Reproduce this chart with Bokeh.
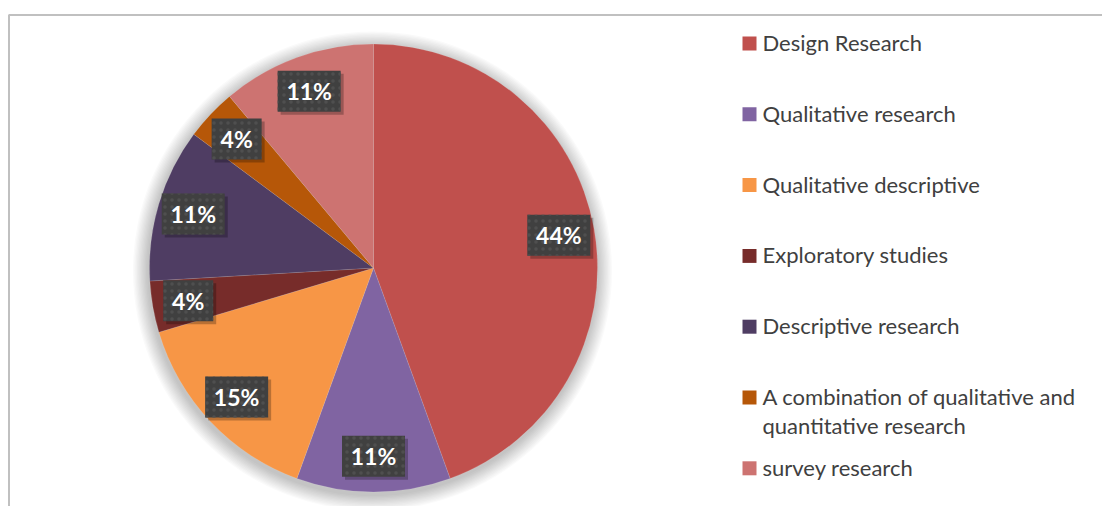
import numpy as np
from bokeh.plotting import figure
from bokeh.models import Range1d, ColumnDataSource
from bokeh.core.properties import value
from bokeh.embed import file_html
from bokeh.resources import INLINE

categories = ["Design Research", "Qualitative research", "Qualitative descriptive",
              "Exploratory studies", "Descriptive research",
              "A combination of qualitative and\nquantitative research", "survey research"]
counts = [12, 3, 4, 1, 3, 1, 3]
colors = ["#C0504D", "#8064A2", "#F79646", "#772C2A", "#4F3D63", "#B65708", "#CD7371"]

W, H = 1102, 506

p = figure(width=W, height=H, output_backend="svg", toolbar_location=None,
           x_range=Range1d(0, W), y_range=Range1d(0, H),
           min_border_left=0, min_border_right=0, min_border_top=0, min_border_bottom=0,
           outline_line_color=None, background_fill_color="white", border_fill_color="white")
p.axis.visible = False
p.grid.visible = False

# helper: page pixel -> data (data units are pixels, y up)
def py(y):
    return H - y

# frame (top + left edges only visible in the reference)
p.line([8, W], [py(14.5), py(14.5)], line_color="#c0c0c0", line_width=2)
p.line([8.5, 8.5], [0, py(14.5)], line_color="#c0c0c0", line_width=2)

cx, cy, R = 373, py(267.5), 224

# soft glow / shadow around the pie
for k in range(1, 13):
    p.circle(x=cx - 1, y=cy - 3, radius=R + k * 1.3, fill_color="#000000",
             fill_alpha=0.018, line_color=None)

vals = np.array(counts, dtype=float)
frac = vals / vals.sum()
cum = np.concatenate([[0], np.cumsum(frac)])
start = np.pi / 2 - cum[:-1] * 2 * np.pi
end = np.pi / 2 - cum[1:] * 2 * np.pi
mid = (start + end) / 2
pct = [f"{round(f * 100):.0f}%" for f in frac]

src = ColumnDataSource(dict(start=start, end=end, color=colors, cat=categories))
p.wedge(x=cx, y=cy, radius=R, start_angle="start", end_angle="end", direction="clock",
        fill_color="color", line_color="white", line_alpha=0.2, line_width=0.6, source=src)

# data labels
lr = 0.84 * R
lx = cx + lr * np.cos(mid)
ly = cy + lr * np.sin(mid)
bw = [24 + 13 * len(t) for t in pct]
lab = ColumnDataSource(dict(x=lx, y=ly, sx=lx + 3, sy=ly - 3, w=bw, t=pct))
p.rect(x="sx", y="sy", width="w", height=41, width_units="screen", height_units="screen",
       fill_color="#000000", fill_alpha=0.25, line_color=None, source=lab)
p.rect(x="x", y="y", width="w", height=41, width_units="screen", height_units="screen",
       fill_color="#404040", line_color=None, hatch_pattern="dot", hatch_color="#4f4f4f",
       hatch_scale=7, hatch_weight=1.2, source=lab)
p.text(x="x", y="y", text="t", text_align="center", text_baseline="middle",
       text_color="white", text_font=value("Lato"), text_font_style="bold",
       text_font_size="23px", source=lab)

# legend (drawn manually to keep uniform pitch with a two-line label)
lg_top = py(42)
pitch = 70.8
sq_x = 749
tx = 762
lys = [lg_top - i * pitch for i in range(len(categories))]
p.rect(x=[sq_x] * len(categories), y=[v - 1 for v in lys], width=14, height=14,
       width_units="screen", height_units="screen", fill_color=colors, line_color=None)
txs, tys, tts = [], [], []
for yy, c in zip(lys, categories):
    for j, line in enumerate(c.split("\n")):
        txs.append(tx)
        tys.append(yy - j * 29)
        tts.append(line)
p.text(x=txs, y=tys, text=tts, text_align="left", text_baseline="middle",
       text_color="#404040", text_font=value("Lato"), text_font_size="22px")

open("out.html", "w").write(file_html(p, INLINE))
